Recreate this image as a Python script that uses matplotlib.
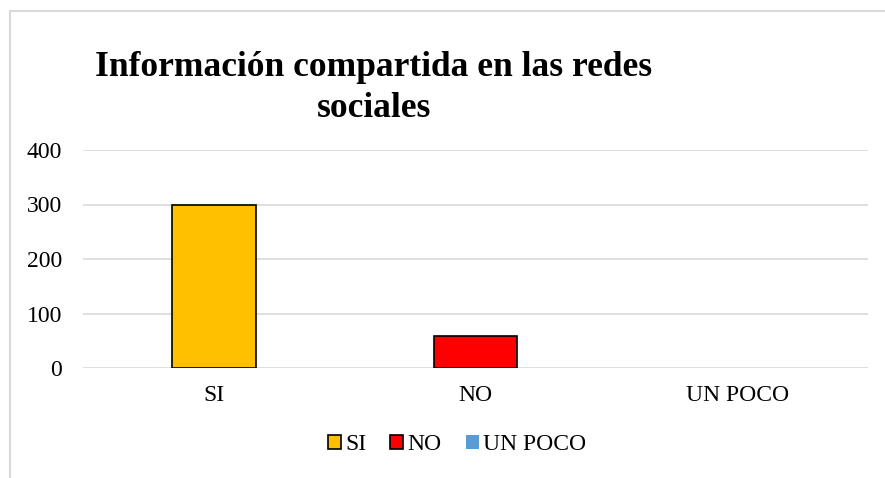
import matplotlib
matplotlib.use("Agg")
import matplotlib.pyplot as plt
from matplotlib.lines import Line2D
from matplotlib.patches import Patch

categories = ["SI", "NO", "UN POCO"]
values = [300, 58, 0]
colors = ["#FFC000", "#FF0000", "#5B9BD5"]
edges = ["black", "black", "none"]
y_ticks = [0, 100, 200, 300, 400]
title = "Información compartida en las redes\nsociales"

plt.rcParams["font.family"] = ["Liberation Serif", "DejaVu Serif"]

fig = plt.figure(figsize=(8.85, 4.78), dpi=100)
ax = fig.add_axes([83 / 885, 110 / 478, 785 / 885, 218 / 478])

x = range(len(categories))
ax.bar(x, values, width=0.32, color=colors, edgecolor=edges, linewidth=1.2, zorder=3)

ax.set_xlim(-0.5, 2.5)
ax.set_ylim(0, 400)
ax.set_xticks(list(x))
ax.set_xticklabels(categories)
ax.set_yticks(y_ticks)
ax.grid(axis="y", color="#D9D9D9", linewidth=1.2, zorder=0)
for side in ["top", "right", "left", "bottom"]:
    ax.spines[side].set_visible(False)
ax.tick_params(axis="both", length=0, labelsize=17)
ax.tick_params(axis="x", pad=12)
ax.tick_params(axis="y", pad=15)

# chart border (top and left visible)
fig.add_artist(Line2D([10 / 885, 10 / 885, 1.0], [0.0, 1 - 11 / 478, 1 - 11 / 478],
                      transform=fig.transFigure, color="#D9D9D9", linewidth=1.5))

fig.text(374 / 885, 1 - 88 / 478, title, ha="center", va="center",
         fontsize=25.5, fontweight="bold", linespacing=1.35)

handles = [Patch(facecolor=c, edgecolor=e, linewidth=1.2) for c, e in zip(colors, edges)]
fig.legend(handles, categories, loc="center", bbox_to_anchor=(457 / 885, 1 - 445 / 478),
           ncol=3, frameon=False, fontsize=17, handlelength=0.55, handleheight=0.55,
           handletextpad=0.2, columnspacing=1.0)

fig.savefig("out.png", dpi=100, facecolor="white")
